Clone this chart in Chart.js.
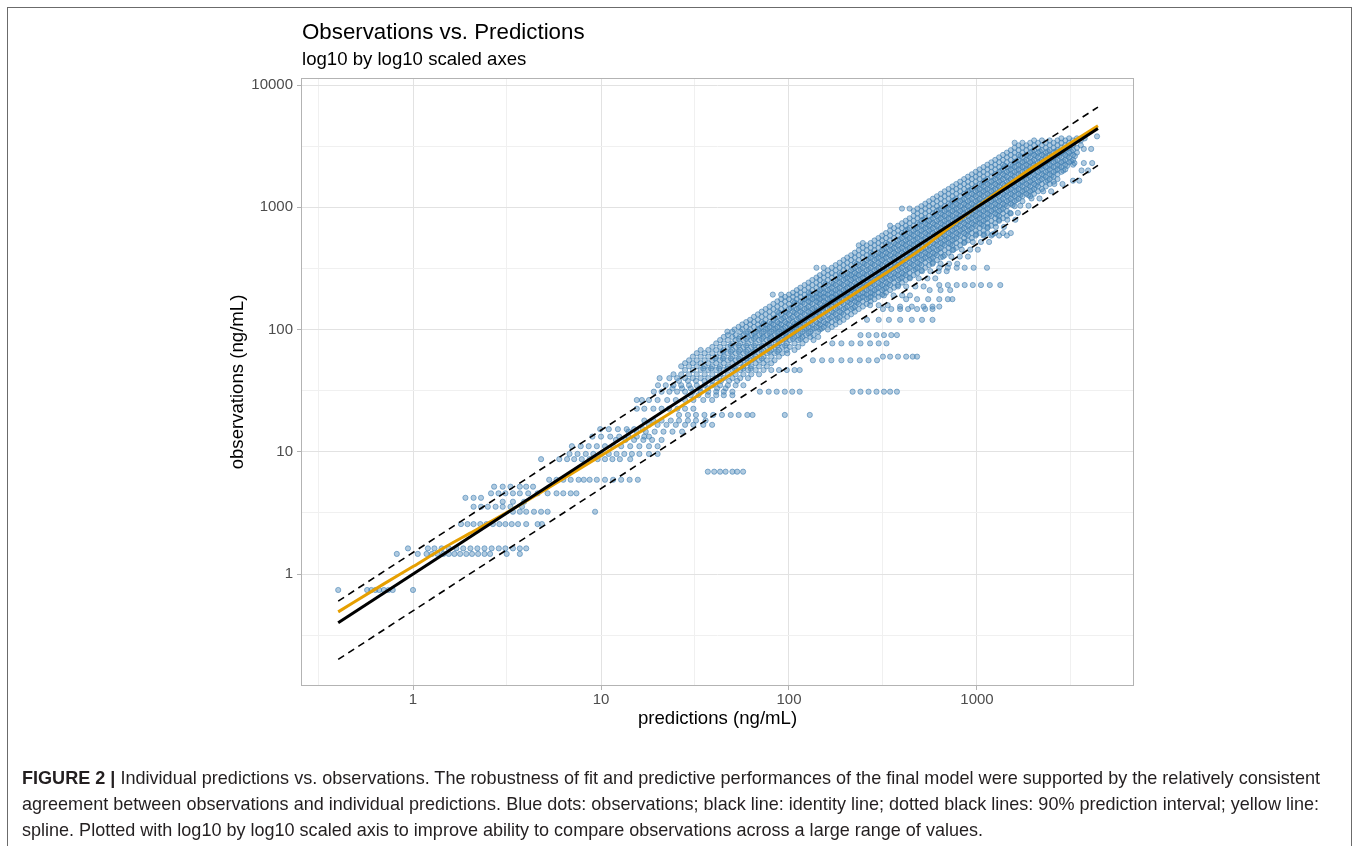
<!DOCTYPE html>
<html><head><meta charset="utf-8">
<script src="https://cdn.jsdelivr.net/npm/chart.js@4.4.1/dist/chart.umd.min.js"></script>
<style>
html,body{margin:0;padding:0;background:#fff;}
body{width:1360px;height:846px;position:relative;overflow:hidden;font-family:"Liberation Sans",Arial,sans-serif;}
#frame{position:absolute;left:7px;top:7px;width:1345px;height:900px;border:1px solid #6b6b6b;box-sizing:border-box;}
#chart{position:absolute;left:0;top:0;}
.t{position:absolute;white-space:nowrap;color:#000;line-height:1;}
#title{left:302px;top:20.6px;font-size:22.3px;}
#subtitle{left:302px;top:50.3px;font-size:18.6px;}
.cap{position:absolute;left:22px;display:inline-block;white-space:nowrap;font-family:"Liberation Sans Narrow","Liberation Sans",Arial,sans-serif;font-size:19px;line-height:26px;color:#231f20;transform-origin:0 50%;}
</style></head>
<body>
<div id="frame"></div>
<canvas id="chart" width="1360" height="846"></canvas>
<div id="title" class="t">Observations vs. Predictions</div>
<div id="subtitle" class="t">log10 by log10 scaled axes</div>
<div class="cap" id="cap1" style="top:765px" data-w="1298"><b>FIGURE 2 |</b> Individual predictions vs. observations. The robustness of fit and predictive performances of the final model were supported by the relatively consistent</div>
<div class="cap" id="cap2" style="top:791px" data-w="1297">agreement between observations and individual predictions. Blue dots: observations; black line: identity line; dotted black lines: 90% prediction interval; yellow line:</div>
<div class="cap" id="cap3" style="top:817px" data-w="961">spline. Plotted with log10 by log10 scaled axis to improve ability to compare observations across a large range of values.</div>
<script>
// ---- tick values ----
const predTicks = [1, 10, 100, 1000];
const obsTicks = [1, 10, 100, 1000, 10000];
const predMinorTicks = [0.316, 3.16, 31.6, 316, 3162];
const obsMinorTicks = [0.316, 3.16, 31.6, 316, 3162];

// ---- reference lines [prediction, observation] ----
const identityLine = [[0.4, 0.4], [4400, 4400]];
const upperInterval = [[0.4, 0.6], [4400, 6600]];
const lowerInterval = [[0.4, 0.2], [4400, 2200]];
const splinePred = [0.4, 0.7, 1, 1.5, 2, 3, 5, 10, 18, 33, 60, 100, 200, 300, 500, 700, 950, 2000, 4400];
const splineObs  = [0.49, 0.83, 1.15, 1.68, 2.15, 3.05, 4.85, 9.3, 16.1, 29, 52.5, 88, 176, 265, 450, 670, 950, 2140, 4650];

// ---- observations: [observation, [predictions...]] ----
const obsRowsLow = [
[0.74,[0.40,0.57,0.60,0.63,0.66,0.70,0.74,0.78,1.0]],
[1.46,[0.82,1.06,1.18,1.26,1.35,1.45,1.55,1.66,1.78,1.92,2.06,2.22,2.4,2.57,3.15,3.7]],
[1.62,[0.94,1.2,1.3,1.42,1.55,1.7,1.85,2.02,2.2,2.4,2.62,2.86,3.1,3.4,3.7,4.0]],
[2.56,[1.8,1.95,2.1,2.28,2.46,2.66,2.88,3.1,3.35,3.62,4.0,4.6,4.85]],
[3.23,[3.4,3.7,4.0,4.4,4.8,5.2,9.3]],
[3.55,[2.1,2.3,2.5,2.75,3.0,3.3,3.8]],
[3.9,[3.0,3.4,3.9]],
[4.2,[1.9,2.1,2.3]],
[4.57,[2.6,2.85,3.1,3.4,3.7,4.1,4.6,5.2,5.8,6.3,6.9,7.4]],
[5.18,[2.7,3.0,3.3,3.7,4.0,4.35]],
[5.9,[5.3,5.8,6.3,6.9,7.6,8.1,8.7,9.5,10.5,11.6,12.8,14.2,15.7]],
[6.87,[37,40,43,46,50,53,57]],
[8.7,[4.8,6.0,6.6,7.2,7.9,8.7,9.6,10.5,11.5,12.6,14.3]],
[9.6,[6.8,7.5,8.3,9.1,10.0,11.0,12.1,13.3,14.6,16.0,18.0,20.0]],
[11.1,[7.0,7.8,8.6,9.5,10.5,11.6,12.8,14.3,16.0,18.0,20.0]],
[12.5,[12.0,13.5,15.0,16.8,18.7,21.0]],
[13.3,[9.0,10.0,11.2,12.5,14.0,15.5,17.0,18.0]],
[14.6,[14.0,15.5,17.3,19.3,21.5,24.0,27.0]],
[15.3,[9.9,11.0,12.3,13.7,15.0,16.7]],
[16.6,[18.0,20.0,22.3,25.0,28.0,31.0,35.0,39.0]],
[18,[17,19,21,23.5,26,29,32,36]],
[20,[26,29,32,35.5,39.5,44,49,54,60,64,95,129]],
[22.5,[15.5,17,19,21,23,25.5,28,31]],
[26.5,[15.5,16.5,18,20,22.5,25,28,31,35,39]],
[29,[30,33,37,41,45,50]]
];
const obsRowsMid = [
[31,[19.1,21,23.1,25.4,28,30.8,33.9,37.2,41,45,50,70,78,86,95,104,114,218,240,265,292,320,345,375]],
[33,[24,27,30,33.5,37,41.5,46]],
[35,[20.1,22.1,24.3,26.7,29.4,32.3,35.6,39.1,43,47.3,52,57.2]],
[38,[26,29,32,35.5,39,43.5,48,53]],
[40,[20.5,23.1,25.4,28,30.8,33.9,37.2,41,45,50,55,60.5]],
[43,[24.3,26.7,29.4,32.3,35.6,39.1,43,47.3,52,57.2,63,69.3]],
[46.6,[28,30.8,33.9,37.2,41,45,50,55,60.5,66.5,73.2,80.5,88.5,97.4,107,114]],
[48,[35,38.5,42.5,47,51.5,57,62.5]],
[50,[26.7,29.4,32.3,35.6,39.1,43,47.3,52,57.2,63,69.3,76.2]],
[53,[28,30.8,33.9,37.2,41,45,50,55,60.5,66.5,73.2,80.5]],
[56,[29.4,32.3,35.6,39.1,43,47.3,52,57.2,63,69.3,76.2,83.8,134,150,168,190,212,238,265,294]],
[58,[40.5,44.5,49,54,59.2,65.1,71.6]],
[60,[30.8,33.9,37.2,41,45,50,55,60.5,66.5,73.2,80.5,88.5,316,345,380,420,455,480]],
[64,[32.3,35.6,39.1,43,47.3,52,57.2,63,69.3,76.2,83.8,92.2,98]],
[66,[44.5,49,54,59.2,65.1,71.6,78.8,86.7]],
[68,[33.9,37.2,41,45,50,55,60.5,66.5,73.2,80.5,88.5,97.4,107]],
[72,[39.1,43,47.3,52,57.2,63,69.3,76.2,83.8,92.2,101,112]],
[74,[49,54,59.2,65.1,71.6,78.8,86.7,95.3]],
[77,[41,45,50,55,60.5,66.5,73.2,80.5,88.5,97.4,107,118,170,190,215,240,270,300,330]],
[82,[43,47.3,52,57.2,63,69.3,76.2,83.8,92.2,101,112,123,135]],
[84,[54,59.2,65.1,71.6,78.8,86.7,95.3,105,115]],
[87,[45,50,55,60.5,66.5,73.2,80.5,88.5,97.4,107,118,130,143]],
[90,[47.3,52,57.2,63,69.3,76.2,83.8,92.2,101,112,123,135,240,265,292,320,350,375]],
[93,[59.2,65.1,71.6,78.8,86.7,95.3,105,115,127]],
[96,[47,50,55,60.5,66.5,73.2,80.5,88.5,97.4,107,118,130,143]]
];
const obsRowsHigh = [
[100,[51.3,56.4,62.1,68.3,75.1,82.6,90.9,100,110,121,133,146,161]],
[105,[53.9,59.2,65.1,71.6,78.8,86.7,95.3,105,115,127,140,153,169]],
[110,[56.4,62.1,68.3,75.1,82.6,90.9,100,110,121,133,146,161,177]],
[115,[59.2,65.1,71.6,78.8,86.7,95.3,105,115,127,140,153,169,186]],
[120,[62.1,68.3,75.1,82.6,90.9,100,110,121,133,146,161,177,195,260,300,340,390,450,510,580]],
[127,[65.1,71.6,78.8,86.7,95.3,105,115,127,140,153,169,186,204]],
[133,[68.3,75.1,82.6,90.9,100,110,121,133,146,161,177,195,214]],
[140,[71.6,78.8,86.7,95.3,105,115,127,140,153,169,186,204,224]],
[147,[75.1,82.6,90.9,100,110,121,133,146,161,177,195,214,235,316,350,390,430,480,530,580]],
[154,[78.8,86.7,95.3,105,115,127,140,153,169,186,204,224,247,390,450,520,580,630]],
[162,[82.6,90.9,100,110,121,133,146,161,177,195,214,235,259]],
[170,[86.7,95.3,105,115,127,140,153,169,186,204,224,247,272]],
[177,[90.9,100,110,121,133,146,161,177,195,214,235,259,285,420,480,550,630,700,740]],
[185,[95.3,105,115,127,140,153,169,186,204,224,247,272,299]],
[193,[82,90.9,100,110,121,133,146,161,177,195,214,235,259,285,313]],
[200,[105,115,127,140,153,169,186,204,224,247,272,299,328]],
[210,[110,121,133,146,161,177,195,214,235,259,285,313,345,560,640,720]],
[220,[115,127,140,153,169,186,204,224,247,272,299,328,362]],
[231,[121,133,146,161,177,195,214,235,259,285,313,345,380,630,700,780,860,950,1050,1170,1330]],
[242,[127,140,153,169,186,204,224,247,272,299,328,362,399]],
[254,[133,146,161,177,195,214,235,259,285,313,345,380,418]],
[266,[140,153,169,186,204,224,247,272,299,328,362,399,438]],
[278,[146,161,177,195,214,235,259,285,313,345,380,418,460]],
[290,[153,169,186,204,224,247,272,299,328,362,399,438,482]],
[305,[161,177,195,214,235,259,285,313,345,380,418,460,506]],
[320,[140,153,169,186,204,224,247,272,299,328,362,399,438,482,531,630,700,780,860,960,1130]],
[336,[177,195,214,235,259,285,313,345,380,418,460,506,556]],
[352,[186,204,224,247,272,299,328,362,399,438,482,531,583]],
[370,[195,214,235,259,285,313,345,380,418,460,506,556,612]],
[388,[204,224,247,272,299,328,362,399,438,482,531,583,642]],
[405,[214,235,259,285,313,345,380,418,460,506,556,612,673]],
[425,[224,247,272,299,328,362,399,438,482,531,583,642,706]],
[445,[235,259,285,313,345,380,418,460,506,556,612,673,740]],
[466,[247,272,299,328,362,399,438,482,531,583,642,706,776]],
[488,[235,259,285,313,345,380,418,460,506,556,612,673,740,814]],
[510,[247,272,299,328,362,399,438,482,531,583,642,706,776,854]],
[535,[285,313,345,380,418,460,506,556,612,673,740,814,895]],
[560,[299,328,362,399,438,482,531,583,642,706,776,854,939]],
[587,[313,345,380,418,460,506,556,612,673,740,814,895,985,1083,1192,1311,1442]],
[615,[328,362,399,438,482,531,583,642,706,776,854,939,1033,1136,1250,1375,1513]],
[645,[345,380,418,460,506,556,612,673,740,814,895,985,1083]],
[675,[362,399,438,482,531,583,642,706,776,854,939,1033,1136]],
[707,[345,380,418,460,506,556,612,673,740,814,895,985,1083,1192]],
[740,[399,438,482,531,583,642,706,776,854,939,1033,1136,1250]],
[775,[418,460,506,556,612,673,740,814,895,985,1083,1192,1311]],
[812,[438,482,531,583,642,706,776,854,939,1033,1136,1250,1375]],
[850,[460,506,556,612,673,740,814,895,985,1083,1192,1311,1442]],
[890,[482,531,583,642,706,776,854,939,1033,1136,1250,1375,1513]],
[932,[460,506,556,612,673,740,814,895,985,1083,1192,1311,1442]],
[976,[399,438,482,531,583,642,706,776,854,939,1033,1136,1250,1375]],
[1020,[506,556,612,673,740,814,895,985,1083,1192,1311,1442,1586]],
[1070,[531,583,642,706,776,854,939,1033,1136,1250,1375,1513]],
[1120,[556,612,673,740,814,895,985,1083,1192,1311,1442,1586,1745]],
[1175,[583,642,706,776,854,939,1033,1136,1250,1375,1513,1664]],
[1230,[612,673,740,814,895,985,1083,1192,1311,1442,1586,1745,1919]],
[1290,[642,706,776,854,939,1033,1136,1250,1375,1513,1664,1830,2013]],
[1350,[673,740,814,895,985,1083,1192,1311,1442,1586,1745,1919,2111]],
[1410,[706,776,854,939,1033,1136,1250,1375,1513,1664,1830,2013,2215]],
[1480,[740,814,895,985,1083,1192,1311,1442,1586,1745,1919,2111,2322]],
[1550,[776,854,939,1033,1136,1250,1375,1513,1664,1830,2013,2215,2436]],
[1620,[814,895,985,1083,1192,1311,1442,1586,1745,1919,2111,2322,2555]],
[1650,[3240,3500]],
[1700,[854,939,1033,1136,1250,1375,1513,1664,1830,2013,2215,2436,2680]],
[1780,[895,985,1083,1192,1311,1442,1586,1745,1919,2111,2322,2555]],
[1860,[939,1033,1136,1250,1375,1513,1664,1830,2013,2215,2436,2680]],
[1950,[985,1083,1192,1311,1442,1586,1745,1919,2111,2322,2555,2810]],
[2000,[3600,3900]],
[2040,[1033,1136,1250,1375,1513,1664,1830,2013,2215,2436,2680,2948]],
[2130,[1083,1192,1311,1442,1586,1745,1919,2111,2322,2555,2810]],
[2230,[1136,1250,1375,1513,1664,1830,2013,2215,2436,2680,2948,3243]],
[2300,[3300,3700,4100]],
[2330,[1192,1311,1442,1586,1745,1919,2111,2322,2555,2810,3091]],
[2440,[1250,1375,1513,1664,1830,2013,2215,2436,2680,2948,3243]],
[2560,[1311,1442,1586,1745,1919,2111,2322,2555,2810,3091]],
[2680,[1375,1513,1664,1830,2013,2215,2436,2680,2948,3243]],
[2800,[1442,1586,1745,1919,2111,2322,2555,2810,3091,3400]],
[2930,[1513,1664,1830,2013,2215,2436,2680,2948,3243]],
[3000,[3700,4050]],
[3070,[1586,1745,1919,2111,2322,2555,2810,3091,3400]],
[3210,[1664,1830,2013,2215,2436,2680,2948,3243,3567]],
[3370,[1586,1745,1919,2111,2322,2555,2810,3091]],
[3520,[2013,2215,2436,2680,2948,3243,3567]],
[3660,[2810,3091,3400,3740]],
[3800,[4350]]
];
// densest part of the cloud, close to the identity line
const obsRowsCore = [
[102,[69.9,76.9,84.6,93.1,102.4,112.6,123.9,136.2,149.5]],
[112,[73.3,80.6,88.6,97.5,107.3,118,129.8,142.7,156.7]],
[124,[84.6,93.1,102.4,112.6,123.9,136.2,149.5,164.9,181.2]],
[137,[88.6,97.5,107.3,118,129.8,142.7,156.7,172.8,189.9]],
[150,[102.4,112.6,123.9,136.2,149.5,164.9,181.2,199.7,219.1]],
[166,[107.3,118,129.8,142.7,156.7,172.8,189.9,209.2,229.6]],
[181,[123.9,136.2,149.5,164.9,181.2,199.7,219.1,240.6,265.2]],
[197,[129.8,142.7,156.7,172.8,189.9,209.2,229.6,252.2,277.9]],
[215,[149.5,164.9,181.2,199.7,219.1,240.6,265.2,291.8,320.5]],
[236,[156.7,172.8,189.9,209.2,229.6,252.2,277.9,305.8,335.8]],
[260,[181.2,199.7,219.1,240.6,265.2,291.8,320.5,353.3,389.1]],
[284,[189.9,209.2,229.6,252.2,277.9,305.8,335.8,370.2,407.7]],
[312,[219.1,240.6,265.2,291.8,320.5,353.3,389.1,428,471]],
[344,[229.6,252.2,277.9,305.8,335.8,370.2,407.7,448.5,493.6]],
[379,[265.2,291.8,320.5,353.3,389.1,428,471,518,569]],
[415,[277.9,305.8,335.8,370.2,407.7,448.5,493.6,543,596.6]],
[455,[320.5,353.3,389.1,428,471,518,569,627]],
[499,[335.8,370.2,407.7,448.5,493.6,543,596.6,656.7,722.1]],
[547,[389.1,428,471,518,569,627,689,758]],
[601,[407.7,448.5,493.6,543,596.6,656.7,722.1,794,873.4]],
[660,[428,471,518,569,627,689,758,834,916]],
[723,[493.6,543,596.6,656.7,722.1,794,873.4,960.3,1057]],
[793,[518,569,627,689,758,834,916,1009,1109]],
[870,[596.6,656.7,722.1,794,873.4,960.3,1057,1162,1279]],
[954,[627,689,758,834,916,1009,1109,1221,1342]],
[1045,[722.1,794,873.4,960.3,1057,1162,1279,1407,1547]],
[1145,[758,834,916,1009,1109,1221,1342,1477,1624]],
[1260,[873.4,960.3,1057,1162,1279,1407,1547,1702,1872]],
[1380,[916,1009,1109,1221,1342,1477,1624,1787,1965]],
[1515,[1057,1162,1279,1407,1547,1702,1872,2059]],
[1660,[1109,1221,1342,1477,1624,1787,1965,2162,2378]],
[1820,[1279,1407,1547,1702,1872,2059,2265,2491]],
[1995,[1342,1477,1624,1787,1965,2162,2378,2616,2877]],
[2180,[1407,1547,1702,1872,2059,2265,2491,2741,3015]],
[2380,[1624,1787,1965,2162,2378,2616,2877,3165]],
[2620,[1702,1872,2059,2265,2491,2741,3015,3317]],
[2860,[1965,2162,2378,2616,2877,3165]]
];
// scattered observations below the lower interval line
const obsRowsLowerSide = [
[158,[270,300,335]],
[190,[320,360,400,440]],
[225,[380,420,470,520]],
[262,[440,490,545,600]],
[300,[510,565,625,690]],
[345,[580,640,710,785]],
[395,[660,730,810,895]],
[450,[750,830,920,1010]],
[520,[860,950,1050,1160]],
[600,[990,1090,1210]],
[690,[1140,1260,1390]],
[790,[1310,1450,1600]],
[900,[1500,1650]],
[1030,[1700,1880]],
[1180,[1950,2150]],
[1350,[2250,2480]],
[1550,[2580,2850]]
];

// ---- build datasets ----
const pts = [];
[obsRowsLow, obsRowsMid, obsRowsHigh, obsRowsCore, obsRowsLowerSide].forEach(rows => rows.forEach(([obs, preds]) => preds.forEach(p => pts.push({x: p, y: obs}))));
const toXY = arr => arr.map(([x, y]) => ({x, y}));
const splineData = splinePred.map((x, i) => ({x, y: splineObs[i]}));

const FONT = '"Liberation Sans", Arial, sans-serif';
function logAxis(major, minor, min, max, titleText, isX) {
  const all = major.concat(minor).sort((a, b) => a - b);
  const ax = {
    type: 'logarithmic', min, max,
    afterBuildTicks: s => { s.ticks = all.map(v => ({value: v})); },
    ticks: {autoSkip: false, maxRotation: 0, padding: isX ? 1 : 4, color: '#4d4d4d',
      font: {family: FONT, size: 15},
      callback: v => major.includes(v) ? String(v) : ''},
    grid: {
      color: c => (c.tick && major.includes(c.tick.value)) ? '#e2e2e2' : '#f0f0f0',
      lineWidth: 1, tickLength: 4, drawTicks: true,
      tickColor: c => (c.tick && major.includes(c.tick.value)) ? '#b3b3b3' : 'rgba(0,0,0,0)'
    },
    border: {display: false},
    title: {display: true, text: titleText, color: '#000', font: {family: FONT, size: 18.6},
      padding: isX ? {top: 0, bottom: 6} : {top: 7, bottom: 0}}
  };
  ax.afterFit = isX ? (s => { s.height = 50; }) : (s => { s.width = 81; });
  return ax;
}

const panelBorder = {
  id: 'panelBorder',
  afterDatasetsDraw(chart) {
    const {ctx, chartArea: a} = chart;
    ctx.save();
    ctx.strokeStyle = '#b3b3b3';
    ctx.lineWidth = 1;
    ctx.strokeRect(Math.round(a.left) + 0.5, Math.round(a.top) + 0.5, Math.round(a.right - a.left) - 1, Math.round(a.bottom - a.top) - 1);
    ctx.restore();
  }
};

new Chart(document.getElementById('chart'), {
  type: 'scatter',
  data: {
    datasets: [
      {type: 'line', label: 'identity line', data: toXY(identityLine), borderColor: '#000', borderWidth: 3, pointRadius: 0, order: 0},
      {type: 'line', label: 'spline', data: splineData, borderColor: '#E69F00', borderWidth: 3, pointRadius: 0, cubicInterpolationMode: 'monotone', order: 1},
      {type: 'line', label: 'upper 90% PI', data: toXY(upperInterval), borderColor: '#000', borderWidth: 1.6, borderDash: [7, 5], pointRadius: 0, order: 2},
      {type: 'line', label: 'lower 90% PI', data: toXY(lowerInterval), borderColor: '#000', borderWidth: 1.6, borderDash: [7, 5], pointRadius: 0, order: 2},
      {type: 'scatter', label: 'observations', data: pts, pointRadius: 2.6, borderWidth: 1,
        backgroundColor: 'rgba(70,130,180,0.42)', borderColor: 'rgba(70,130,180,0.62)', order: 3}
    ]
  },
  options: {
    responsive: false, animation: false, events: [],
    layout: {padding: {left: 220, right: 226, top: 78, bottom: 110}},
    plugins: {legend: {display: false}, tooltip: {enabled: false}, title: {display: false}},
    scales: {
      x: logAxis(predTicks, predMinorTicks, 0.2536, 6842, 'predictions (ng/mL)', true),
      y: logAxis(obsTicks, obsMinorTicks, 0.1213, 11410, 'observations (ng/mL)', false)
    }
  },
  plugins: [panelBorder]
});

// fit caption lines to the reference line widths
document.querySelectorAll('.cap').forEach(el => {
  const target = parseFloat(el.dataset.w);
  const w = el.getBoundingClientRect().width;
  if (w > 0) el.style.transform = 'scaleX(' + (target / w) + ')';
});
</script>
</body></html>
